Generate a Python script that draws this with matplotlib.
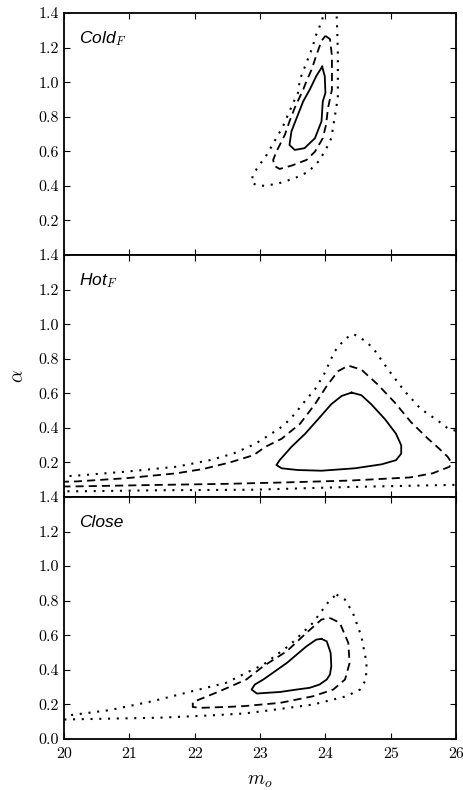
import matplotlib
matplotlib.use("Agg")
import matplotlib.pyplot as plt

plt.rcParams['mathtext.fontset'] = 'cm'
plt.rcParams['font.family'] = ['cmr10', 'DejaVu Serif']
plt.rcParams['axes.formatter.use_mathtext'] = True

# x / y ticks
x_ticks = [20, 21, 22, 23, 24, 25, 26]
y_ticks = [0.0, 0.2, 0.4, 0.6, 0.8, 1.0, 1.2, 1.4]
panel_labels = [r"Cold$_F$", r"Hot$_F$", r"Close"]

# ---- Cold_F contours ----
cold_solid_x = [23.95, 23.99, 24.00, 23.96, 23.94, 23.84, 23.68, 23.53, 23.45, 23.48, 23.56, 23.66, 23.76, 23.86, 23.95]
cold_solid_y = [1.090, 1.035, 0.938, 0.889, 0.773, 0.676, 0.618, 0.608, 0.637, 0.715, 0.793, 0.889, 0.957, 1.035, 1.090]
cold_dash_x = [24.00, 24.07, 24.10, 24.10, 24.10, 24.04, 24.01, 23.96, 23.84, 23.71, 23.48, 23.30, 23.22, 23.20, 23.25, 23.38, 23.45, 23.53, 23.66, 23.71, 23.79, 23.84, 23.94, 24.00]
cold_dash_y = [1.268, 1.249, 1.151, 1.055, 0.957, 0.851, 0.754, 0.676, 0.598, 0.55, 0.517, 0.498, 0.515, 0.55, 0.598, 0.696, 0.773, 0.851, 0.957, 1.006, 1.074, 1.132, 1.239, 1.268]
cold_dot_x = [24.17, 24.17, 24.18, 24.19, 24.19, 24.19, 24.19, 24.14, 24.09, 23.99, 23.89, 23.74, 23.53, 23.28, 23.07, 22.94, 22.87, 22.89, 22.97, 23.10, 23.22, 23.35, 23.45, 23.53, 23.58, 23.61, 23.66, 23.71, 23.76, 23.81, 23.84, 23.89, 23.94, 23.98, 24.00]
cold_dot_y = [1.50, 1.404, 1.307, 1.171, 1.055, 0.957, 0.909, 0.793, 0.676, 0.598, 0.54, 0.482, 0.444, 0.414, 0.40, 0.405, 0.42, 0.463, 0.511, 0.579, 0.657, 0.744, 0.831, 0.899, 0.938, 1.016, 1.064, 1.113, 1.161, 1.21, 1.258, 1.303, 1.349, 1.40, 1.50]

# ---- Hot_F contours ----
hot_solid_x = [24.40, 24.25, 24.09, 23.89, 23.69, 23.48, 23.30, 23.25, 23.33, 23.58, 23.94, 24.45, 24.86, 25.08, 25.16, 25.16, 25.08, 24.91, 24.70, 24.55, 24.40]
hot_solid_y = [0.604, 0.585, 0.537, 0.451, 0.366, 0.29, 0.213, 0.185, 0.166, 0.156, 0.152, 0.166, 0.189, 0.213, 0.251, 0.299, 0.366, 0.451, 0.537, 0.589, 0.604]
hot_dash_x = [19.95, 20.19, 20.96, 21.72, 22.13, 22.54, 22.90, 23.08, 23.33, 23.61, 23.84, 24.02, 24.19, 24.35, 24.55, 24.80, 25.06, 25.31, 25.57, 25.74, 25.87, 25.92, 25.90, 25.64, 25.29, 24.37, 23.36, 22.90, 22.49, 21.46, 20.14, 19.95]
hot_dash_y = [0.088, 0.090, 0.109, 0.137, 0.162, 0.200, 0.242, 0.29, 0.337, 0.423, 0.537, 0.642, 0.727, 0.760, 0.737, 0.651, 0.547, 0.433, 0.337, 0.28, 0.233, 0.204, 0.175, 0.137, 0.113, 0.095, 0.084, 0.080, 0.076, 0.070, 0.061, 0.061]
hot_dot_x = [19.95, 20.14, 20.96, 21.72, 22.23, 22.59, 22.92, 23.13, 23.36, 23.53, 23.69, 23.84, 23.99, 24.14, 24.30, 24.43, 24.60, 24.73, 24.96, 25.21, 25.46, 25.72, 25.87, 26.10, 26.10, 25.95, 24.37, 22.90, 21.46, 20.24, 19.95]
hot_dot_y = [0.120, 0.122, 0.147, 0.175, 0.213, 0.251, 0.306, 0.356, 0.413, 0.48, 0.556, 0.623, 0.718, 0.842, 0.915, 0.943, 0.905, 0.861, 0.737, 0.613, 0.509, 0.442, 0.398, 0.37, 0.068, 0.07, 0.058, 0.042, 0.039, 0.033, 0.033]

# ---- Close contours ----
close_solid_x = [23.94, 24.02, 24.08, 24.09, 24.07, 24.02, 23.91, 23.76, 23.56, 23.31, 23.15, 22.95, 22.87, 22.92, 23.05, 23.41, 23.71, 23.86, 23.94]
close_solid_y = [0.579, 0.565, 0.498, 0.421, 0.373, 0.344, 0.315, 0.296, 0.286, 0.272, 0.268, 0.263, 0.286, 0.315, 0.344, 0.44, 0.536, 0.575, 0.579]
close_dash_x = [24.07, 24.22, 24.35, 24.37, 24.30, 24.12, 23.81, 23.31, 22.75, 22.54, 22.08, 21.97, 21.97, 22.38, 22.79, 23.05, 23.41, 23.71, 23.94, 24.07]
close_dash_y = [0.70, 0.672, 0.556, 0.44, 0.344, 0.286, 0.247, 0.209, 0.19, 0.186, 0.18, 0.185, 0.213, 0.276, 0.344, 0.421, 0.508, 0.614, 0.691, 0.70]
close_dot_x = [24.17, 24.30, 24.42, 24.55, 24.63, 24.62, 24.53, 24.32, 23.81, 23.05, 22.74, 22.23, 21.46, 20.06, 19.90, 19.90, 20.06, 20.70, 21.36, 21.97, 22.48, 22.84, 23.05, 23.46, 23.81, 24.07, 24.17]
close_dot_y = [0.835, 0.806, 0.73, 0.594, 0.44, 0.344, 0.286, 0.247, 0.199, 0.161, 0.147, 0.136, 0.123, 0.113, 0.112, 0.134, 0.136, 0.167, 0.219, 0.277, 0.325, 0.392, 0.43, 0.545, 0.672, 0.806, 0.835]

panels = [
    [(cold_solid_x, cold_solid_y), (cold_dash_x, cold_dash_y), (cold_dot_x, cold_dot_y)],
    [(hot_solid_x, hot_solid_y), (hot_dash_x, hot_dash_y), (hot_dot_x, hot_dot_y)],
    [(close_solid_x, close_solid_y), (close_dash_x, close_dash_y), (close_dot_x, close_dot_y)],
]
styles = ['-', (0, (4.5, 2.8)), (0, (1, 3.2))]
widths = [1.3, 1.3, 1.5]

fig, axes = plt.subplots(3, 1, figsize=(4.64, 7.90), dpi=100, sharex=True)
fig.subplots_adjust(left=0.138, right=0.983, bottom=0.0646, top=0.9835, hspace=0)

for i, ax in enumerate(axes):
    for (xs, ys), ls, lw in zip(panels[i], styles, widths):
        ax.plot(xs, ys, color='black', linestyle=ls, linewidth=lw, clip_on=True,
                solid_joinstyle='round', dash_joinstyle='round')
    ax.set_xlim(20, 26)
    ax.set_ylim(0, 1.4)
    ax.set_xticks(x_ticks)
    ax.set_yticks(y_ticks)
    labels = ['%.1f' % v for v in y_ticks]
    if i < 2:
        labels[0] = ''
    ax.set_yticklabels(labels)
    ax.tick_params(direction='in', top=True, right=True, length=4, width=0.8, labelsize=11.5)
    for sp in ax.spines.values():
        sp.set_linewidth(1.3)
    ax.text(0.038, 0.895, panel_labels[i], transform=ax.transAxes, ha='left', va='center',
            fontsize=12.5, family=['Liberation Sans', 'DejaVu Sans'], style='italic')

axes[2].set_xticklabels([str(v) for v in x_ticks])
axes[2].tick_params(axis='x', pad=6)
axes[2].set_xlabel(r'$m_o$', fontsize=14, labelpad=8)
axes[1].set_ylabel(r'$\alpha$', fontsize=14, labelpad=8)

fig.savefig('out.png', dpi=100)
